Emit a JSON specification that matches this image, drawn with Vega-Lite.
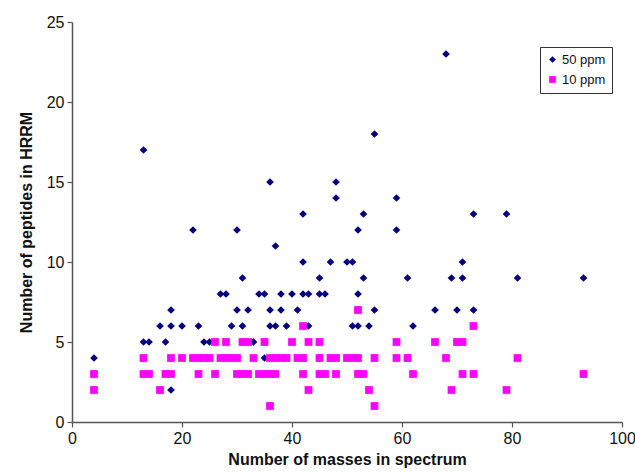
{
  "$schema": "https://vega.github.io/schema/vega-lite/v6.json",
  "autosize": "none",
  "width": 550,
  "height": 400,
  "padding": {"left": 72, "top": 22, "right": 13, "bottom": 51},
  "background": "white",
  "config": {
    "view": {"stroke": null},
    "font": "Liberation Sans",
    "axis": {"grid": false, "domainColor": "#555555", "tickColor": "#555555", "labelColor": "#111111", "titleColor": "#111111", "labelFont": "Liberation Sans", "titleFont": "Liberation Sans", "labelFontSize": 16, "titleFontSize": 16, "titleFontWeight": "bold", "tickSize": 5, "domainWidth": 1.5, "tickWidth": 1.2}
  },
  "data": {
    "values": [
      {"x": 4, "y": 4, "s": "50 ppm"}, {"x": 4, "y": 3, "s": "50 ppm"},
      {"x": 13, "y": 17, "s": "50 ppm"},
      {"x": 13, "y": 5, "s": "50 ppm"}, {"x": 14, "y": 5, "s": "50 ppm"},
      {"x": 22, "y": 12, "s": "50 ppm"}, {"x": 30, "y": 12, "s": "50 ppm"},
      {"x": 31, "y": 9, "s": "50 ppm"},
      {"x": 27, "y": 8, "s": "50 ppm"}, {"x": 28, "y": 8, "s": "50 ppm"}, {"x": 34, "y": 8, "s": "50 ppm"}, {"x": 35, "y": 8, "s": "50 ppm"}, {"x": 38, "y": 8, "s": "50 ppm"}, {"x": 40, "y": 8, "s": "50 ppm"}, {"x": 42, "y": 8, "s": "50 ppm"}, {"x": 43, "y": 8, "s": "50 ppm"}, {"x": 45, "y": 8, "s": "50 ppm"}, {"x": 46, "y": 8, "s": "50 ppm"}, {"x": 52, "y": 8, "s": "50 ppm"},
      {"x": 18, "y": 7, "s": "50 ppm"}, {"x": 30, "y": 7, "s": "50 ppm"}, {"x": 32, "y": 7, "s": "50 ppm"}, {"x": 36, "y": 7, "s": "50 ppm"}, {"x": 38, "y": 7, "s": "50 ppm"}, {"x": 41, "y": 7, "s": "50 ppm"}, {"x": 52, "y": 7, "s": "50 ppm"}, {"x": 55, "y": 7, "s": "50 ppm"}, {"x": 66, "y": 7, "s": "50 ppm"}, {"x": 70, "y": 7, "s": "50 ppm"}, {"x": 73, "y": 7, "s": "50 ppm"},
      {"x": 16, "y": 6, "s": "50 ppm"}, {"x": 18, "y": 6, "s": "50 ppm"}, {"x": 20, "y": 6, "s": "50 ppm"}, {"x": 23, "y": 6, "s": "50 ppm"}, {"x": 29, "y": 6, "s": "50 ppm"}, {"x": 31, "y": 6, "s": "50 ppm"}, {"x": 36, "y": 6, "s": "50 ppm"}, {"x": 37, "y": 6, "s": "50 ppm"}, {"x": 39, "y": 6, "s": "50 ppm"}, {"x": 43, "y": 6, "s": "50 ppm"}, {"x": 51, "y": 6, "s": "50 ppm"}, {"x": 52, "y": 6, "s": "50 ppm"}, {"x": 54, "y": 6, "s": "50 ppm"}, {"x": 62, "y": 6, "s": "50 ppm"},
      {"x": 17, "y": 5, "s": "50 ppm"}, {"x": 24, "y": 5, "s": "50 ppm"}, {"x": 25, "y": 5, "s": "50 ppm"}, {"x": 31, "y": 5, "s": "50 ppm"}, {"x": 33, "y": 5, "s": "50 ppm"},
      {"x": 22, "y": 4, "s": "50 ppm"}, {"x": 35, "y": 4, "s": "50 ppm"}, {"x": 45, "y": 4, "s": "50 ppm"},
      {"x": 18, "y": 2, "s": "50 ppm"},
      {"x": 68, "y": 23, "s": "50 ppm"}, {"x": 55, "y": 18, "s": "50 ppm"}, {"x": 36, "y": 15, "s": "50 ppm"}, {"x": 48, "y": 15, "s": "50 ppm"}, {"x": 48, "y": 14, "s": "50 ppm"}, {"x": 59, "y": 14, "s": "50 ppm"},
      {"x": 42, "y": 13, "s": "50 ppm"}, {"x": 53, "y": 13, "s": "50 ppm"}, {"x": 73, "y": 13, "s": "50 ppm"}, {"x": 79, "y": 13, "s": "50 ppm"},
      {"x": 52, "y": 12, "s": "50 ppm"}, {"x": 59, "y": 12, "s": "50 ppm"}, {"x": 37, "y": 11, "s": "50 ppm"},
      {"x": 42, "y": 10, "s": "50 ppm"}, {"x": 47, "y": 10, "s": "50 ppm"}, {"x": 50, "y": 10, "s": "50 ppm"}, {"x": 51, "y": 10, "s": "50 ppm"}, {"x": 71, "y": 10, "s": "50 ppm"},
      {"x": 45, "y": 9, "s": "50 ppm"}, {"x": 53, "y": 9, "s": "50 ppm"}, {"x": 61, "y": 9, "s": "50 ppm"}, {"x": 69, "y": 9, "s": "50 ppm"}, {"x": 71, "y": 9, "s": "50 ppm"}, {"x": 81, "y": 9, "s": "50 ppm"}, {"x": 93, "y": 9, "s": "50 ppm"},

      {"x": 52, "y": 7, "s": "10 ppm"},
      {"x": 42, "y": 6, "s": "10 ppm"}, {"x": 73, "y": 6, "s": "10 ppm"},
      {"x": 26, "y": 5, "s": "10 ppm"}, {"x": 28, "y": 5, "s": "10 ppm"}, {"x": 31, "y": 5, "s": "10 ppm"}, {"x": 32, "y": 5, "s": "10 ppm"}, {"x": 35, "y": 5, "s": "10 ppm"}, {"x": 40, "y": 5, "s": "10 ppm"}, {"x": 43, "y": 5, "s": "10 ppm"}, {"x": 45, "y": 5, "s": "10 ppm"}, {"x": 59, "y": 5, "s": "10 ppm"}, {"x": 66, "y": 5, "s": "10 ppm"}, {"x": 70, "y": 5, "s": "10 ppm"}, {"x": 71, "y": 5, "s": "10 ppm"},
      {"x": 13, "y": 4, "s": "10 ppm"}, {"x": 18, "y": 4, "s": "10 ppm"}, {"x": 20, "y": 4, "s": "10 ppm"}, {"x": 22, "y": 4, "s": "10 ppm"}, {"x": 23, "y": 4, "s": "10 ppm"}, {"x": 24, "y": 4, "s": "10 ppm"}, {"x": 25, "y": 4, "s": "10 ppm"}, {"x": 27, "y": 4, "s": "10 ppm"}, {"x": 28, "y": 4, "s": "10 ppm"}, {"x": 29, "y": 4, "s": "10 ppm"}, {"x": 30, "y": 4, "s": "10 ppm"}, {"x": 33, "y": 4, "s": "10 ppm"}, {"x": 36, "y": 4, "s": "10 ppm"}, {"x": 37, "y": 4, "s": "10 ppm"}, {"x": 38, "y": 4, "s": "10 ppm"}, {"x": 39, "y": 4, "s": "10 ppm"}, {"x": 41, "y": 4, "s": "10 ppm"}, {"x": 42, "y": 4, "s": "10 ppm"}, {"x": 45, "y": 4, "s": "10 ppm"}, {"x": 47, "y": 4, "s": "10 ppm"}, {"x": 48, "y": 4, "s": "10 ppm"}, {"x": 50, "y": 4, "s": "10 ppm"}, {"x": 51, "y": 4, "s": "10 ppm"}, {"x": 52, "y": 4, "s": "10 ppm"}, {"x": 55, "y": 4, "s": "10 ppm"}, {"x": 59, "y": 4, "s": "10 ppm"}, {"x": 61, "y": 4, "s": "10 ppm"}, {"x": 68, "y": 4, "s": "10 ppm"}, {"x": 81, "y": 4, "s": "10 ppm"},
      {"x": 4, "y": 3, "s": "10 ppm"}, {"x": 13, "y": 3, "s": "10 ppm"}, {"x": 14, "y": 3, "s": "10 ppm"}, {"x": 17, "y": 3, "s": "10 ppm"}, {"x": 18, "y": 3, "s": "10 ppm"}, {"x": 23, "y": 3, "s": "10 ppm"}, {"x": 26, "y": 3, "s": "10 ppm"}, {"x": 30, "y": 3, "s": "10 ppm"}, {"x": 31, "y": 3, "s": "10 ppm"}, {"x": 32, "y": 3, "s": "10 ppm"}, {"x": 34, "y": 3, "s": "10 ppm"}, {"x": 35, "y": 3, "s": "10 ppm"}, {"x": 36, "y": 3, "s": "10 ppm"}, {"x": 37, "y": 3, "s": "10 ppm"}, {"x": 42, "y": 3, "s": "10 ppm"}, {"x": 45, "y": 3, "s": "10 ppm"}, {"x": 46, "y": 3, "s": "10 ppm"}, {"x": 48, "y": 3, "s": "10 ppm"}, {"x": 52, "y": 3, "s": "10 ppm"}, {"x": 53, "y": 3, "s": "10 ppm"}, {"x": 62, "y": 3, "s": "10 ppm"}, {"x": 71, "y": 3, "s": "10 ppm"}, {"x": 73, "y": 3, "s": "10 ppm"}, {"x": 93, "y": 3, "s": "10 ppm"},
      {"x": 4, "y": 2, "s": "10 ppm"}, {"x": 16, "y": 2, "s": "10 ppm"}, {"x": 43, "y": 2, "s": "10 ppm"}, {"x": 54, "y": 2, "s": "10 ppm"}, {"x": 69, "y": 2, "s": "10 ppm"}, {"x": 79, "y": 2, "s": "10 ppm"},
      {"x": 36, "y": 1, "s": "10 ppm"}, {"x": 55, "y": 1, "s": "10 ppm"}
    ]
  },
  "mark": {"type": "point", "filled": true, "opacity": 1},
  "encoding": {
    "x": {"field": "x", "type": "quantitative", "title": "Number of masses in spectrum", "scale": {"domain": [0, 100], "nice": false, "zero": true}, "axis": {"values": [0, 20, 40, 60, 80, 100], "labelPadding": 3, "titlePadding": 5, "labelFlush": false}},
    "y": {"field": "y", "type": "quantitative", "title": "Number of peptides in HRRM", "scale": {"domain": [0, 25], "nice": false}, "axis": {"values": [0, 5, 10, 15, 20, 25], "labelPadding": 3, "titlePadding": 12, "labelFlush": false}},
    "color": {"field": "s", "type": "nominal", "scale": {"domain": ["50 ppm", "10 ppm"], "range": ["#000080", "#ff00ff"]}, "legend": {"title": null, "orient": "none", "legendX": 468, "legendY": 25, "strokeColor": "#333333", "fillColor": "white", "padding": 6, "labelFontSize": 13, "labelFont": "Liberation Sans", "labelColor": "#111111", "symbolSize": 45, "rowPadding": 6, "labelOffset": 3}},
    "shape": {"field": "s", "type": "nominal", "scale": {"domain": ["50 ppm", "10 ppm"], "range": ["diamond", "square"]}},
    "size": {"value": 60}
  }
}
